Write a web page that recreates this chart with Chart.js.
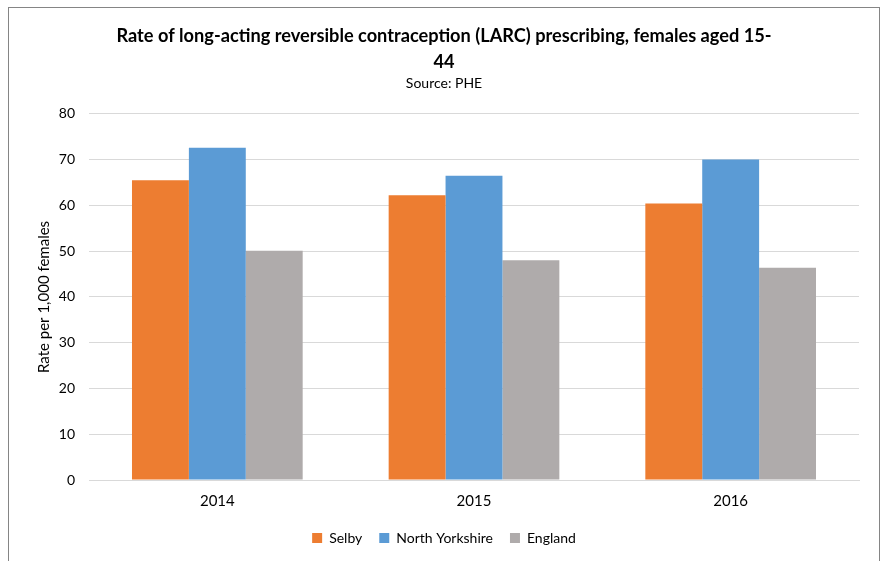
<!DOCTYPE html>
<html>
<head>
<meta charset="utf-8">
<script src="https://cdn.jsdelivr.net/npm/chart.js@4"></script>
<style>
  body { margin: 0; background: #fff; }
  #frame { position: absolute; left: 8px; top: 7px; width: 870px; height: 560px; border: 1px solid #858585; border-bottom: none; }
</style>
</head>
<body>
<div id="frame"><canvas id="larcChart" width="870" height="560"></canvas></div>
<script>
const years = ['2014', '2015', '2016'];
const selby = [65.5, 62.2, 60.4];
const northYorkshire = [72.6, 66.5, 70.0];
const england = [50.1, 48.0, 46.4];
const yTicks = [0, 10, 20, 30, 40, 50, 60, 70, 80];

const fontFamily = 'Lato, "Open Sans", sans-serif';

const data = {
  labels: years,
  datasets: [
    { label: 'Selby', data: selby, backgroundColor: '#ED7D31' },
    { label: 'North Yorkshire', data: northYorkshire, backgroundColor: '#5B9BD5' },
    { label: 'England', data: england, backgroundColor: '#AFABAB' }
  ]
};

// config
const config = {
  type: 'bar',
  data,
  options: {
    responsive: false,
    animation: false,
    datasets: { bar: { categoryPercentage: 0.665, barPercentage: 1.0 } },
    layout: { padding: { left: 20, right: 20, top: 15, bottom: 13 } },
    plugins: {
      title: {
        display: true,
        text: ['Rate of long-acting reversible contraception (LARC) prescribing, females aged 15-', '44'],
        color: '#000',
        font: { family: fontFamily, size: 18.2, weight: 'bold', lineHeight: 1.43 },
        padding: { top: 0, bottom: 0 }
      },
      subtitle: {
        display: true,
        text: 'Source: PHE',
        color: '#000',
        font: { family: fontFamily, size: 14 },
        padding: { top: 0, bottom: 22 }
      },
      legend: {
        position: 'bottom',
        labels: {
          color: '#000',
          font: { family: fontFamily, size: 14 },
          boxWidth: 10,
          boxHeight: 10,
          padding: 17
        }
      },
      tooltip: { enabled: false }
    },
    scales: {
      x: {
        grid: { display: false },
        border: { color: '#D9D9D9', width: 1 },
        ticks: { color: '#000', font: { family: fontFamily, size: 15 }, padding: 4 }
      },
      y: {
        min: 0,
        max: 80,
        afterBuildTicks: (axis) => { axis.ticks = yTicks.map(v => ({ value: v })); },
        afterFit: (axis) => { axis.width = 60; },
        grid: { color: '#D9D9D9', drawTicks: false },
        border: { display: false },
        ticks: { color: '#000', font: { family: fontFamily, size: 14 }, padding: 14 },
        title: {
          display: true,
          text: 'Rate per 1,000 females',
          color: '#000',
          font: { family: fontFamily, size: 15 },
          padding: { top: 6, bottom: 0 }
        }
      }
    }
  }
};

// render init block
const myChart = new Chart(
  document.getElementById('larcChart'),
  config
);
</script>
</body>
</html>
